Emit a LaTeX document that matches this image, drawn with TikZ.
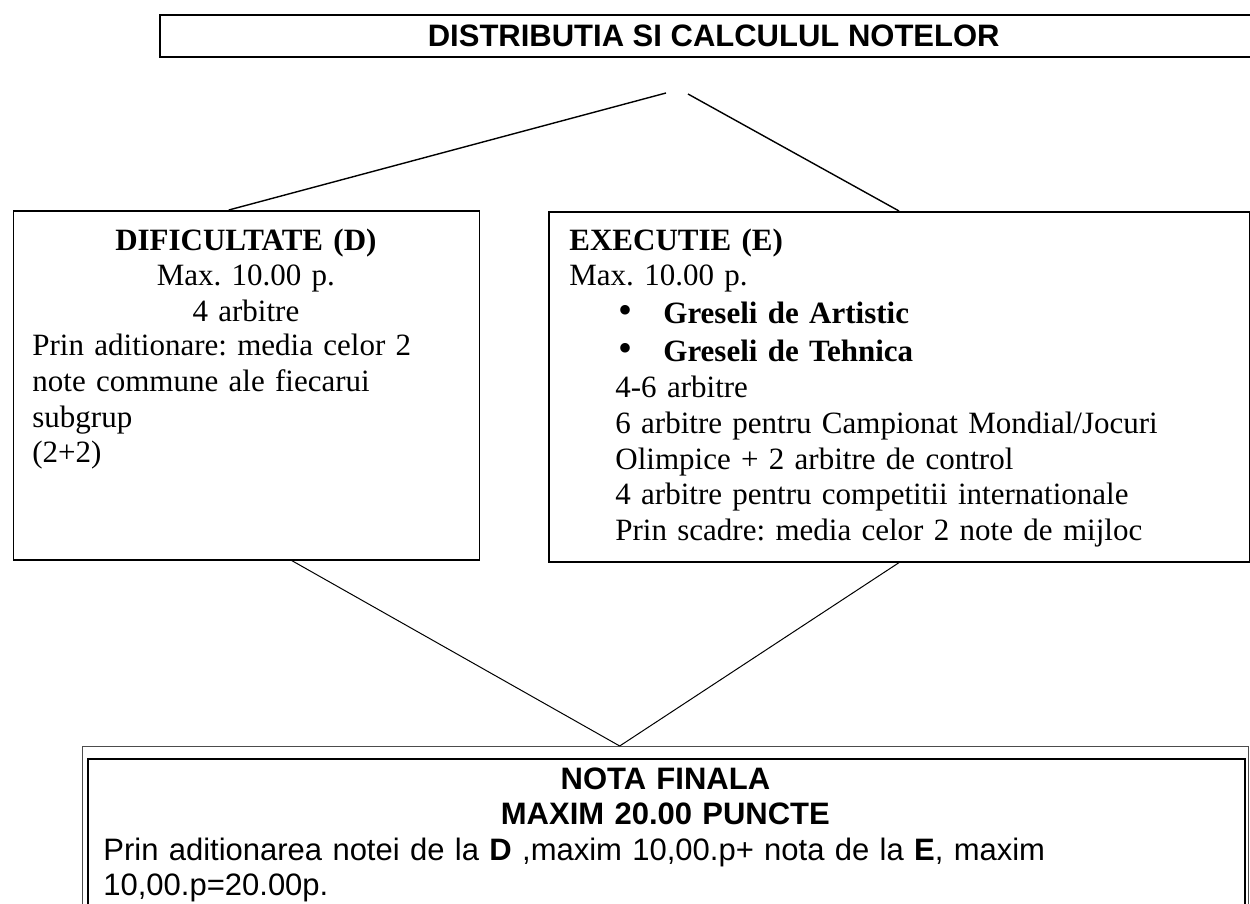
\documentclass[tikz,border=0pt]{standalone}
\usepackage{fontspec}
\setmainfont{Liberation Serif}
\setsansfont{Liberation Sans}
\usetikzlibrary{positioning}
\newcommand{\marimetext}{\fontsize{15.5}{17.8}\selectfont\frenchspacing}
\newcommand{\bulina}{\makebox[24pt][l]{\hspace{1.5pt}{\fontsize{20}{17.8}\selectfont\textbullet}}}
\tikzset{cutie/.style={draw,rectangle,line width=0.8pt,inner sep=0pt,anchor=north west}}
\tikzset{rand/.style={inner sep=0pt,anchor=base west,align=left}}
\tikzset{linie/.style={line width=0.7pt}}
\begin{document}
\begin{tikzpicture}[x=0.5pt,y=0.5pt,font=\marimetext]
\useasboundingbox (0,0) rectangle (1250,-904);
% titlu
\node [cutie, line width=1.2pt, minimum width=553.5pt, minimum height=21pt,
  font=\marimetext\sffamily\bfseries] (titlu) at (159,-14) {DISTRIBUTIA SI CALCULUL NOTELOR};

% dificultate
\node [cutie, minimum width=233pt, minimum height=174.5pt] (dbox) at (12.5,-210) {};
\node [rand, align=center, text width=213.5pt] (dtitlu) at (32,-250)
  {\textbf{DIFICULTATE (D)}\\Max. 10.00 p.\\4 arbitre};
\node [rand, text width=213.5pt] (dcorp) at (32,-356)
  {Prin aditionare: media celor 2\\note commune ale fiecarui\\subgrup\\(2+2)};

% executie
\node [cutie, minimum width=350.25pt, minimum height=175pt] (ebox) at (548,-211) {};
\node [rand, text width=330pt] (etitlu) at (569,-250) {\textbf{EXECUTIE (E)}\\Max. 10.00 p.};
\node [rand, text width=300pt] (ebulet) at (615,-324)
  {\bulina\textbf{Greseli de Artistic}\\[1pt]
   \bulina\textbf{Greseli de Tehnica}};
\node [rand, text width=300pt] (earb) at (615,-398)
  {4-6 arbitre\\6 arbitre pentru Campionat Mondial/Jocuri\\Olimpice + 2 arbitre de control\\4 arbitre pentru competitii internationale\\Prin scadre: media celor 2 note de mijloc};

% nota finala
\node [cutie, line width=0.7pt, draw=black!70, minimum width=583pt, minimum height=100pt] (fext) at (82,-746) {};
\node [cutie, line width=1.2pt, minimum width=578.75pt, minimum height=100pt] (fint) at (86.5,-758) {};
\node [rand, align=center, text width=578.5pt, font=\marimetext\sffamily\bfseries] (ftitlu) at (86.5,-789)
  {NOTA FINALA\\MAXIM 20.00 PUNCTE};
\node [rand, text width=560pt, font=\marimetext\sffamily] (fcorp) at (103,-860)
  {Prin aditionarea notei de la \textbf{D} ,maxim 10,00.p+ nota de la \textbf{E}, maxim\\10,00.p=20.00p.};

% linii
\coordinate (vsus1) at (666,-93);
\coordinate (vsus2) at (688,-94);
\draw [linie] ([xshift=-8.75pt]dbox.north) -- (vsus1);
\draw [linie] (vsus2) -- (ebox.north);
\draw [linie, line width=0.5pt] ([xshift=22.75pt]dbox.south) -- ([xshift=-23pt]fext.north);
\draw [linie, line width=0.5pt] (ebox.south) -- ([xshift=-23pt]fext.north);
\end{tikzpicture}
\end{document}
